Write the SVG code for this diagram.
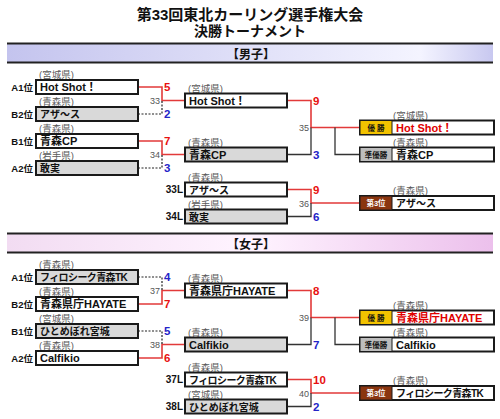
<svg xmlns="http://www.w3.org/2000/svg" width="500" height="419" viewBox="0 0 500 419">
<defs>
<linearGradient id="gm" x1="0" x2="1" y1="0" y2="0"><stop offset="0" stop-color="#c4c4ee"/><stop offset="0.85" stop-color="#f4f4ff"/><stop offset="1" stop-color="#c8c8f0"/></linearGradient>
<linearGradient id="gw" x1="0" x2="1" y1="0" y2="0"><stop offset="0" stop-color="#f2dcf2"/><stop offset="0.5" stop-color="#fff4ff"/><stop offset="1" stop-color="#ecc0ec"/></linearGradient>
<style>
text{font-family:"Liberation Sans","Noto Sans CJK JP",sans-serif}
.ttl{font-size:15px;font-weight:bold;fill:#111;text-anchor:middle}
.hd{font-size:12px;font-weight:bold;fill:#111;text-anchor:middle}
.box{stroke:#1a1a1a;stroke-width:2}
.w{fill:#fff}.g{fill:#d9d9d9}
.pref{font-size:9.5px;fill:#5a5a5a}
.nm{font-size:11px;font-weight:bold;fill:#111}
.s10{font-size:10px}
.ls{letter-spacing:-0.6px}
.seed{font-size:9.5px;font-weight:bold;fill:#111;text-anchor:end}
.sr{font-size:11.5px;font-weight:bold;fill:#e81010}
.sb{font-size:11.5px;font-weight:bold;fill:#2424c8}
.mno{font-size:9px;fill:#555;text-anchor:end}
.win{stroke:#e23a3a;stroke-width:1.6;fill:none}
.l1{stroke:#222;stroke-width:1.2;stroke-dasharray:2 1.5;fill:none}
.l2{stroke:#333;stroke-width:1.3;fill:none}
.cell{stroke:#1a1a1a;stroke-width:1}
.lb{font-size:7.5px;font-weight:bold;text-anchor:middle}
.red{fill:#e00000}
</style>
</defs>
<rect width="500" height="419" fill="#fff"/>
<g id="title">
<text class="ttl" x="250" y="20">第33回東北カーリング選手権大会</text>
<text class="ttl" x="250" y="36" style="font-size:14px">決勝トーナメント</text>
</g>
<g id="men-header">
<rect x="7" y="44" width="486" height="18" fill="url(#gm)"/>
<line x1="7" y1="43.5" x2="493" y2="43.5" stroke="#222" stroke-width="2.2"/>
<line x1="7" y1="62.5" x2="493" y2="62.5" stroke="#222" stroke-width="2.2"/>
<text class="hd" x="251" y="59">【男子】</text>
</g>
<g id="women-header">
<rect x="7" y="234" width="486" height="18" fill="url(#gw)"/>
<line x1="7" y1="233.5" x2="493" y2="233.5" stroke="#222" stroke-width="2.2"/>
<line x1="7" y1="252.5" x2="493" y2="252.5" stroke="#222" stroke-width="2.2"/>
<text class="hd" x="251" y="249">【女子】</text>
</g>
<g id="connectors">
<path class="win" d="M138,87H162V100.5H185"/><path class="l1" d="M138,114H162V100.5"/>
<path class="win" d="M138,141H162V154.5H185"/><path class="l1" d="M138,168H162V154.5"/>
<path class="win" d="M287,100.5H311V127.5H360"/><path class="l2" d="M287,154.5H311V127.5"/>
<path class="l2" d="M335,127.5V154.5H360"/>
<path class="win" d="M287,189.5H311V203H360"/><path class="l2" d="M287,216.5H311V203"/>
<path class="win" d="M138,304H162V290.5H185"/><path class="l1" d="M138,277H162V290.5"/>
<path class="win" d="M138,358H162V344.5H185"/><path class="l1" d="M138,331H162V344.5"/>
<path class="win" d="M287,290.5H311V317.5H360"/><path class="l2" d="M287,344.5H311V317.5"/>
<path class="l2" d="M335,317.5V344.5H360"/>
<path class="win" d="M287,379.5H311V393H360"/><path class="l2" d="M287,406.5H311V393"/>
</g>
<g id="scores">
<text class="sr" x="164" y="91">5</text><text class="sb" x="164" y="118">2</text><text class="mno" x="160" y="104">33</text>
<text class="sr" x="164" y="145">7</text><text class="sb" x="164" y="172">3</text><text class="mno" x="160" y="158">34</text>
<text class="sr" x="313" y="104.5">9</text><text class="sb" x="313" y="158.5">3</text><text class="mno" x="309" y="131">35</text>
<text class="sr" x="313" y="193.5">9</text><text class="sb" x="313" y="220.5">6</text><text class="mno" x="309" y="206.5">36</text>
<text class="sb" x="164" y="281">4</text><text class="sr" x="164" y="308">7</text><text class="mno" x="160" y="294">37</text>
<text class="sb" x="164" y="335">5</text><text class="sr" x="164" y="362">6</text><text class="mno" x="160" y="348">38</text>
<text class="sr" x="313" y="294.5">8</text><text class="sb" x="313" y="348.5">7</text><text class="mno" x="309" y="321">39</text>
<text class="sr" x="313" y="383.5">10</text><text class="sb" x="313" y="410.5">2</text><text class="mno" x="309" y="396.5">40</text>
</g>
<g id="m-a1"><text class="seed" x="33" y="90.5">A1位</text><text class="pref" x="39" y="78">(宮城県)</text><rect class="box w" x="36" y="80" width="102" height="14"/><text class="nm" x="40" y="91">Hot Shot！</text></g>
<g id="m-b2"><text class="seed" x="33" y="117.5">B2位</text><text class="pref" x="39" y="105">(青森県)</text><rect class="box g" x="36" y="107" width="102" height="14"/><text class="nm s10" x="40" y="118">アザ～ス</text></g>
<g id="m-b1"><text class="seed" x="33" y="144.5">B1位</text><text class="pref" x="39" y="132">(青森県)</text><rect class="box w" x="36" y="134" width="102" height="14"/><text class="nm" x="40" y="145">青森CP</text></g>
<g id="m-a2"><text class="seed" x="33" y="171.5">A2位</text><text class="pref" x="39" y="159">(岩手県)</text><rect class="box g" x="36" y="161" width="102" height="14"/><text class="nm s10" x="40" y="172">敢実</text></g>
<g id="m-r2a"><text class="pref" x="188" y="91.5">(宮城県)</text><rect class="box w" x="185" y="93.5" width="102" height="14"/><text class="nm" x="189" y="104.5">Hot Shot！</text></g>
<g id="m-r2b"><text class="pref" x="188" y="145.5">(青森県)</text><rect class="box g" x="185" y="147.5" width="102" height="14"/><text class="nm" x="189" y="158.5">青森CP</text></g>
<g id="m-33l"><text class="seed" x="183" y="193" style="font-size:10px">33L</text><text class="pref" x="188" y="180.5">(青森県)</text><rect class="box w" x="185" y="182.5" width="102" height="14"/><text class="nm s10" x="189" y="193.5">アザ～ス</text></g>
<g id="m-34l"><text class="seed" x="183" y="220" style="font-size:10px">34L</text><text class="pref" x="188" y="207.5">(岩手県)</text><rect class="box g" x="185" y="209.5" width="102" height="14"/><text class="nm s10" x="189" y="220.5">敢実</text></g>
<g id="m-champ"><text class="pref" x="393" y="118.5">(宮城県)</text><rect class="box w" x="360" y="120.5" width="134" height="14"/><rect class="cell" x="360" y="120.5" width="32" height="14" fill="#f2c200"/><text class="lb" x="376" y="130.5" fill="#111">優 勝</text><text class="nm red" x="396" y="131.5">Hot Shot！</text></g>
<g id="m-second"><text class="pref" x="393" y="145.5">(青森県)</text><rect class="box w" x="360" y="147.5" width="134" height="14"/><rect class="cell" x="360" y="147.5" width="32" height="14" fill="#bdbdbd"/><text class="lb" x="376" y="157.5" fill="#111">準優勝</text><text class="nm" x="396" y="158.5">青森CP</text></g>
<g id="m-third"><text class="pref" x="393" y="194">(青森県)</text><rect class="box w" x="360" y="196" width="134" height="14"/><rect class="cell" x="360" y="196" width="32" height="14" fill="#8a3510"/><text class="lb" x="376" y="206" fill="#fff">第3位</text><text class="nm s10" x="396" y="207">アザ～ス</text></g>
<g id="w-a1"><text class="seed" x="33" y="280.5">A1位</text><text class="pref" x="39" y="268">(青森県)</text><rect class="box g" x="36" y="270" width="102" height="14"/><text class="nm s10 ls" x="40" y="281">フィロシーク青森TK</text></g>
<g id="w-b2"><text class="seed" x="33" y="307.5">B2位</text><text class="pref" x="39" y="295">(青森県)</text><rect class="box w" x="36" y="297" width="102" height="14"/><text class="nm" x="40" y="308">青森県庁HAYATE</text></g>
<g id="w-b1"><text class="seed" x="33" y="334.5">B1位</text><text class="pref" x="39" y="322">(宮城県)</text><rect class="box g" x="36" y="324" width="102" height="14"/><text class="nm s10" x="40" y="335">ひとめぼれ宮城</text></g>
<g id="w-a2"><text class="seed" x="33" y="361.5">A2位</text><text class="pref" x="39" y="349">(青森県)</text><rect class="box w" x="36" y="351" width="102" height="14"/><text class="nm" x="40" y="362">Calfikio</text></g>
<g id="w-r2a"><text class="pref" x="188" y="281.5">(青森県)</text><rect class="box w" x="185" y="283.5" width="102" height="14"/><text class="nm" x="189" y="294.5">青森県庁HAYATE</text></g>
<g id="w-r2b"><text class="pref" x="188" y="335.5">(青森県)</text><rect class="box g" x="185" y="337.5" width="102" height="14"/><text class="nm" x="189" y="348.5">Calfikio</text></g>
<g id="w-37l"><text class="seed" x="183" y="383" style="font-size:10px">37L</text><text class="pref" x="188" y="370.5">(青森県)</text><rect class="box w" x="185" y="372.5" width="102" height="14"/><text class="nm s10 ls" x="189" y="383.5">フィロシーク青森TK</text></g>
<g id="w-38l"><text class="seed" x="183" y="410" style="font-size:10px">38L</text><text class="pref" x="188" y="397.5">(宮城県)</text><rect class="box g" x="185" y="399.5" width="102" height="14"/><text class="nm s10" x="189" y="410.5">ひとめぼれ宮城</text></g>
<g id="w-champ"><text class="pref" x="393" y="308.5">(青森県)</text><rect class="box w" x="360" y="310.5" width="134" height="14"/><rect class="cell" x="360" y="310.5" width="32" height="14" fill="#f2c200"/><text class="lb" x="376" y="320.5" fill="#111">優 勝</text><text class="nm red" x="396" y="321.5">青森県庁HAYATE</text></g>
<g id="w-second"><text class="pref" x="393" y="335.5">(青森県)</text><rect class="box w" x="360" y="337.5" width="134" height="14"/><rect class="cell" x="360" y="337.5" width="32" height="14" fill="#bdbdbd"/><text class="lb" x="376" y="347.5" fill="#111">準優勝</text><text class="nm" x="396" y="348.5">Calfikio</text></g>
<g id="w-third"><text class="pref" x="393" y="384">(青森県)</text><rect class="box w" x="360" y="386" width="134" height="14"/><rect class="cell" x="360" y="386" width="32" height="14" fill="#8a3510"/><text class="lb" x="376" y="396" fill="#fff">第3位</text><text class="nm s10 ls" x="396" y="397">フィロシーク青森TK</text></g>
</svg>
